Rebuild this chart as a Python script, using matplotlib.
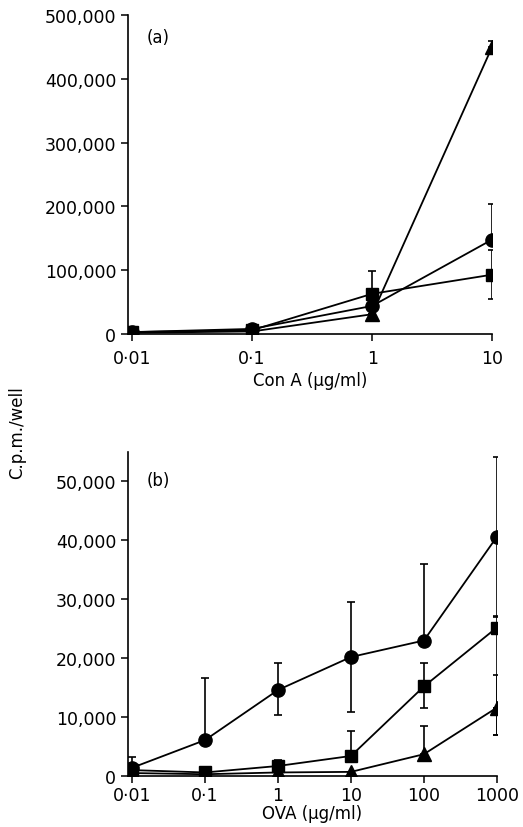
import numpy as np
import matplotlib
matplotlib.use('Agg')
import matplotlib.pyplot as plt

plt.rcParams['font.family'] = ['DejaVu Sans']

# panel (a): Con A
cona_dose = [0.01, 0.1, 1, 10]
cona_circle = [3000, 8000, 44000, 148000]
cona_circle_err = [0, 0, 0, 55000]
cona_square = [3000, 6000, 63000, 93000]
cona_square_err = [0, 0, 35000, 38000]
cona_triangle = [2000, 4000, 31000, 450000]
cona_triangle_err = [0, 0, 0, 10000]

# panel (b): OVA
ova_dose = [0.01, 0.1, 1, 10, 100, 1000]
ova_circle = [1400, 6100, 14600, 20200, 23000, 40600]
ova_circle_err = [1800, 10500, 4500, 9400, 13000, 13600]
ova_square = [1000, 600, 1700, 3400, 15200, 25200]
ova_square_err = [0, 0, 1000, 4300, 4000, 2000]
ova_triangle = [500, 300, 600, 700, 3700, 11600]
ova_triangle_err = [0, 0, 0, 0, 4800, 5500]

fig = plt.figure(figsize=(5.23, 8.28), dpi=100)
ax1 = fig.add_axes([0.245, 0.5954, 0.696, 0.3853])
ax2 = fig.add_axes([0.245, 0.0616, 0.705, 0.3913])

style = dict(color='black', lw=1.3, capsize=3, elinewidth=1.2, capthick=1.2)

def draw(ax, x, y, e, marker, ms):
    ax.errorbar(x, y, yerr=[np.zeros(len(e)), e], marker=marker, ms=ms,
                mfc='black', mec='black', **style)

draw(ax1, cona_dose, cona_square, cona_square_err, 's', 8)
draw(ax1, cona_dose, cona_circle, cona_circle_err, 'o', 9.5)
draw(ax1, cona_dose, cona_triangle, cona_triangle_err, '^', 10)

# lower halves of the bars where the picture shows them
ax1.errorbar([10], [93000], yerr=[[38000], [0]], fmt='none', **style)

draw(ax2, ova_dose, ova_circle, ova_circle_err, 'o', 9.5)
draw(ax2, ova_dose, ova_square, ova_square_err, 's', 8)
draw(ax2, ova_dose, ova_triangle, ova_triangle_err, '^', 10)
ax2.errorbar([1, 10, 1000], [14600, 20200, 40600], yerr=[[4200, 9400, 13600], [0, 0, 0]], fmt='none', **style)
ax2.errorbar([100, 1000], [15200, 25200], yerr=[[3700, 18300], [0, 0]], fmt='none', **style)
ax2.errorbar([1000], [11600], yerr=[[4700], [0]], fmt='none', **style)

for ax in (ax1, ax2):
    ax.set_xscale('log')
    ax.spines['top'].set_visible(False)
    ax.spines['right'].set_visible(False)
    ax.spines['left'].set_linewidth(1.2)
    ax.spines['bottom'].set_linewidth(1.2)
    ax.tick_params(axis='both', direction='out', length=5, width=1.1, labelsize=12.5)
    ax.minorticks_off()

ax1.tick_params(axis='x', pad=6)
ax2.tick_params(axis='x', pad=2)

ax1.set_xlim(10 ** -2.033, 10)
ax1.set_ylim(0, 500000)
ax1.set_xticks(cona_dose)
ax1.set_xticklabels(['0·01', '0·1', '1', '10'])
ax1.set_yticks(np.arange(0, 500001, 100000))
ax1.set_yticklabels(['0', '100,000', '200,000', '300,000', '400,000', '500,000'])
ax1.set_xlabel('Con A (μg/ml)', fontsize=12, labelpad=3)
ax1.text(0.05, 0.96, '(a)', transform=ax1.transAxes, fontsize=12, va='top')

ax2.set_xlim(10 ** -2.055, 1000)
ax2.set_ylim(0, 55000)
ax2.set_xticks(ova_dose)
ax2.set_xticklabels(['0·01', '0·1', '1', '10', '100', '1000'])
ax2.set_yticks(np.arange(0, 50001, 10000))
ax2.set_yticklabels(['0', '10,000', '20,000', '30,000', '40,000', '50,000'])
ax2.set_xlabel('OVA (μg/ml)', fontsize=12, labelpad=0)
ax2.text(0.05, 0.94, '(b)', transform=ax2.transAxes, fontsize=12, va='top')

fig.text(0.033, 0.478, 'C.p.m./well', rotation=90, fontsize=12, ha='center', va='center')

fig.savefig('out.png', dpi=100)
